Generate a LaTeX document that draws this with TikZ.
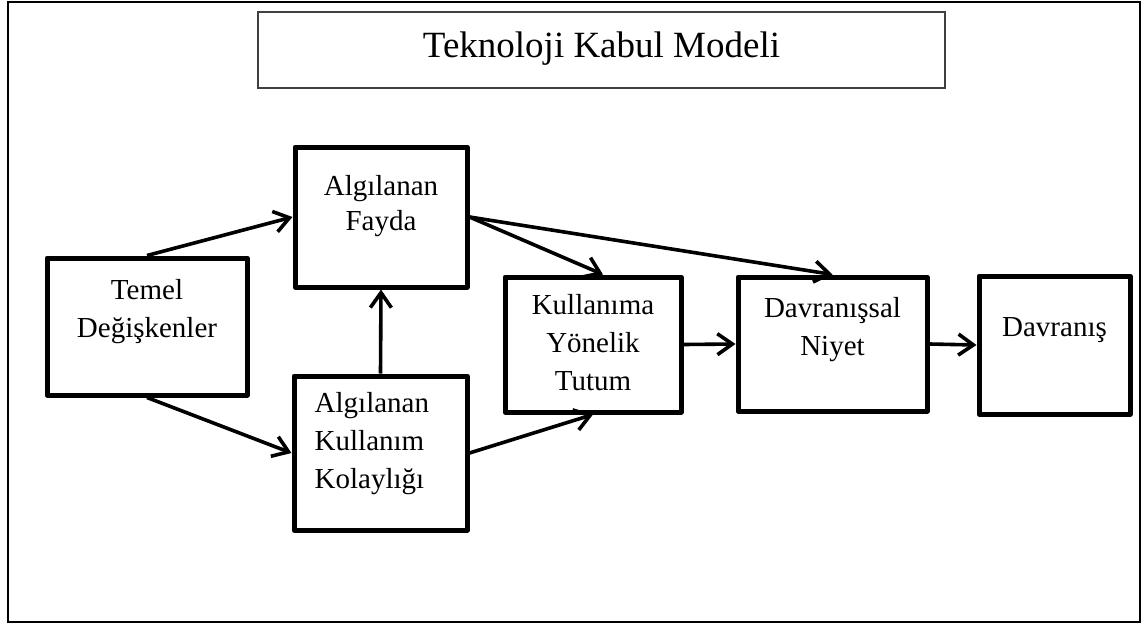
\documentclass[tikz,border=0pt]{standalone}
\usepackage{fontspec}
\setmainfont{Liberation Serif}
\usetikzlibrary{arrows.meta,positioning}

\begin{document}
\begin{tikzpicture}[x=1pt,y=-1pt,
  kutu/.style={draw,line width=5pt,line join=round,inner sep=0pt},
  yazi/.style={align=center,inner sep=0pt,font=\fontsize{29}{38}\selectfont},
  ok/.style={line width=3.6pt,-{Straight Barb[length=15pt,width=21pt]}}]
\useasboundingbox (0,0) rectangle (1143,624);
\draw[line width=2.5pt] (8,2) rectangle (1140,622);

% baslik
\node[draw=black!75,line width=1.5pt,minimum width=687pt,minimum height=76pt,
  font=\fontsize{37}{44}\selectfont,text height=24pt,text depth=10pt]
  (baslik) at (601.5,50) {Teknoloji Kabul Modeli};

% kutular
\node[kutu,minimum width=200pt,minimum height=137pt] (temel) at (147,326.5) {};
\node[kutu,minimum width=172pt,minimum height=140pt] (fayda) at (381,217) {};
\node[kutu,minimum width=173pt,minimum height=154pt] (kolay) at (380.5,453) {};
\node[kutu,minimum width=176pt,minimum height=135pt] (tutum) at (593,344.5) {};
\node[kutu,minimum width=189pt,minimum height=134pt] (niyet) at (832.5,344) {};
\node[kutu,minimum width=151pt,minimum height=138pt] (davranis) at (1054.5,345) {};

% yazilar
\node[yazi,below=24pt of temel.north] (temel-y) {Temel\\Değişkenler};
\node[yazi,font=\fontsize{29}{35}\selectfont,below=31pt of fayda.north] (fayda-y) {Algılanan\\Fayda};
\node[yazi,align=left,below right=19pt and 23pt of kolay.north west] (kolay-y) {Algılanan\\Kullanım\\Kolaylığı};
\node[yazi,below=20pt of tutum.north] (tutum-y) {Kullanıma\\Yönelik\\Tutum};
\node[yazi,below=23pt of niyet.north] (niyet-y) {Davranışsal\\Niyet};
\node[yazi,below=44pt of davranis.north] (davranis-y) {Davranış};

% oklar
\draw[ok] (temel.north) -- (fayda.west);
\draw[ok] (temel.south) -- (kolay.west);
\draw[ok] (kolay.north) -- (fayda.south);
\draw[ok] (fayda.east) -- ([xshift=10pt]tutum.north);
\draw[ok] (fayda.east) -- (niyet.north);
\draw[ok] (kolay.east) -- (tutum.south);
\draw[ok] (tutum.east) -- (niyet.west);
\draw[ok] (niyet.east) -- (davranis.west);
\end{tikzpicture}
\end{document}
